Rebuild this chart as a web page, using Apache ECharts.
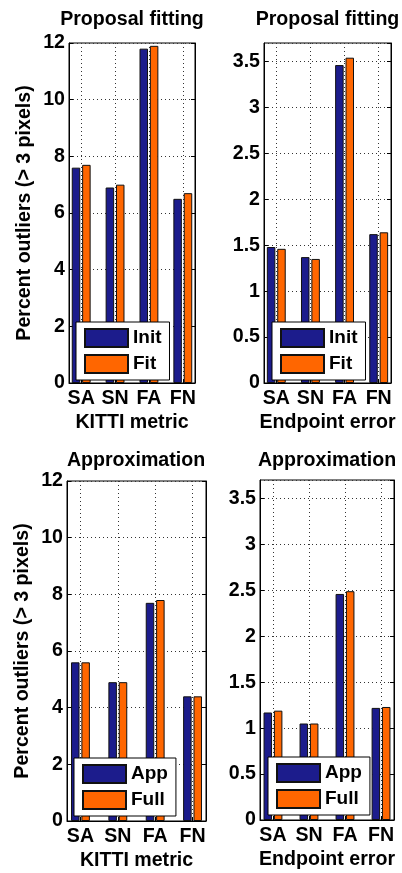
<!DOCTYPE html>
<html>
<head>
<meta charset="utf-8">
<script src="https://cdn.jsdelivr.net/npm/echarts@6/dist/echarts.min.js"></script>
<style>html,body{margin:0;padding:0;background:#fff}#c{width:402px;height:873px}</style>
</head>
<body>
<div id="c"></div>
<script>
// ---- data ----
const categories = ['SA', 'SN', 'FA', 'FN'];
const kittiInit = [7.6, 6.9, 11.8, 6.5];
const kittiFit = [7.7, 7.0, 11.9, 6.7];
const epeInit = [1.48, 1.37, 3.46, 1.62];
const epeFit = [1.46, 1.35, 3.54, 1.64];
const kittiApp = [5.6, 4.9, 7.7, 4.4];
const kittiFull = [5.6, 4.9, 7.8, 4.4];
const epeApp = [1.17, 1.05, 2.46, 1.22];
const epeFull = [1.19, 1.05, 2.49, 1.23];
const titles = ['Proposal fitting', 'Proposal fitting', 'Approximation', 'Approximation'];
const xNames = ['KITTI metric', 'Endpoint error', 'KITTI metric', 'Endpoint error'];
const yName = 'Percent outliers (> 3 pixels)';
const kittiTicks = [0, 2, 4, 6, 8, 10, 12];
const epeTicks = [0, 0.5, 1, 1.5, 2, 2.5, 3, 3.5];

// ---- style ----
const F = '"Liberation Sans", Arial, Helvetica, sans-serif';
const BLUE = '#1c1c8c';
const ORANGE = '#ff6600';
const txt = { fontSize: 19.6, fontWeight: 'bold', color: '#000', fontFamily: F };
const legTxt = { fontSize: 19, fontWeight: 'bold', color: '#000', fontFamily: F, lineHeight: 18 };
const catPos = categories.map((c, i) => i + 1);

const grids = [
  { left: 69, top: 43, width: 126, height: 340 },
  { left: 264, top: 43, width: 127, height: 340 },
  { left: 67, top: 481, width: 139, height: 340 },
  { left: 260, top: 480, width: 134, height: 340 }
];

function xAxisFor(gi) {
  return {
    type: 'value', gridIndex: gi, min: 0.64, max: 4.36,
    name: xNames[gi], nameLocation: 'middle', nameGap: 30,
    nameTextStyle: txt,
    axisLine: { show: true, onZero: false, lineStyle: { color: '#000', width: 1 } },
    axisTick: { show: true, inside: true, length: 4, customValues: catPos, lineStyle: { color: '#000' } },
    axisLabel: Object.assign({ customValues: catPos, margin: 6,
      formatter: v => categories[Math.round(v) - 1] || '' }, txt),
    splitLine: { show: true, lineStyle: { type: [1, 3], color: '#333', width: 1 } }
  };
}
function yAxisFor(gi, isKitti) {
  return {
    type: 'value', gridIndex: gi, min: 0, max: isKitti ? 12 : 3.7,
    interval: isKitti ? 2 : 0.5,
    name: isKitti ? yName : '', nameLocation: 'middle', nameGap: 34, nameRotate: 90,
    nameTextStyle: txt,
    axisLine: { show: true, lineStyle: { color: '#000', width: 1 } },
    axisTick: { show: true, inside: true, length: 4, lineStyle: { color: '#000' } },
    axisLabel: Object.assign({ margin: 4, showMaxLabel: isKitti ? true : false,
      formatter: v => {
        const t = isKitti ? kittiTicks : epeTicks;
        return t.some(k => Math.abs(k - v) < 1e-6) ? String(v) : '';
      } }, txt),
    splitLine: { show: true, lineStyle: { type: [1, 3], color: '#333', width: 1 } }
  };
}
function yRightFor(gi, isKitti) {
  return {
    type: 'value', gridIndex: gi, position: 'right', min: 0, max: isKitti ? 12 : 3.7,
    interval: isKitti ? 2 : 0.5,
    axisLine: { show: true, lineStyle: { color: '#000', width: 1 } },
    axisTick: { show: true, inside: true, length: 4, lineStyle: { color: '#000' } },
    axisLabel: { show: false }, splitLine: { show: false }
  };
}
function bars(name, gi, vals, color) {
  return {
    type: 'bar', name: name, xAxisIndex: gi, yAxisIndex: gi,
    data: vals.map((v, i) => [catPos[i], v]),
    barWidth: 8.5, barGap: '22%',
    itemStyle: { color: color, borderColor: '#111', borderWidth: 1 },
    emphasis: { disabled: true }, animation: false
  };
}
function legendFor(names, left, top) {
  return {
    data: names, orient: 'vertical', left: left, top: top,
    icon: 'rect', itemWidth: 43, itemHeight: 18, itemGap: 6,
    padding: [6, 8, 6, 8], borderColor: '#000', borderWidth: 1, backgroundColor: '#fff',
    textStyle: legTxt, selectedMode: false
  };
}
const titleCenters = [132, 327.5, 136, 327];
const titleTops = [10, 10, 451, 451];

const option = {
  animation: false,
  backgroundColor: '#fff',
  title: titles.map((t, i) => ({ text: t, left: titleCenters[i], top: titleTops[i], textAlign: 'center',
    textStyle: txt, padding: 0 })),
  grid: grids.map(g => Object.assign({ show: true, borderColor: '#000', borderWidth: 1, backgroundColor: 'transparent', containLabel: false }, g)),
  xAxis: [0, 1, 2, 3].map(xAxisFor),
  yAxis: [yAxisFor(0, true), yAxisFor(1, false), yAxisFor(2, true), yAxisFor(3, false),
          yRightFor(0, true), yRightFor(1, false), yRightFor(2, true), yRightFor(3, false)],
  legend: [legendFor(['Init', 'Fit'], 76, 322), legendFor(['Init', 'Fit'], 272, 322),
           legendFor(['App', 'Full'], 74, 758), legendFor(['App', 'Full'], 268, 757)],
  series: [
    bars('Init', 0, kittiInit, BLUE), bars('Fit', 0, kittiFit, ORANGE),
    bars('Init', 1, epeInit, BLUE), bars('Fit', 1, epeFit, ORANGE),
    bars('App', 2, kittiApp, BLUE), bars('Full', 2, kittiFull, ORANGE),
    bars('App', 3, epeApp, BLUE), bars('Full', 3, epeFull, ORANGE)
  ]
};
const chart = echarts.init(document.getElementById('c'), null, { renderer: 'canvas' });
chart.setOption(option);
</script>
</body>
</html>
